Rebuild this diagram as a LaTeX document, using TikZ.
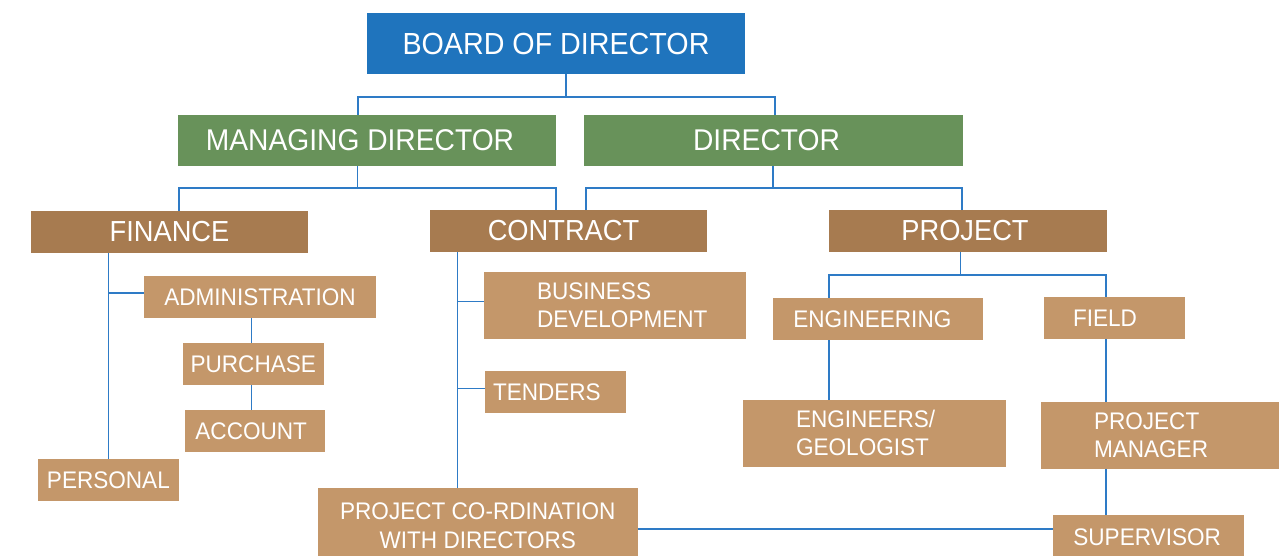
\documentclass[tikz,border=0pt]{standalone}
\usepackage{fontspec}
\setmainfont[FakeStretch=0.94]{Liberation Sans}
\definecolor{cBlue}{HTML}{1F74BD}
\definecolor{cGreen}{HTML}{68925A}
\definecolor{cDark}{HTML}{A77B50}
\definecolor{cTan}{HTML}{C4976A}
\definecolor{cLine}{HTML}{2E7BC6}
\tikzset{
  box/.style n args={2}{rectangle, inner sep=0pt, minimum width=#1pt, minimum height=#2pt, text=white, align=center},
  bigbox/.style n args={2}{box={#1}{#2}, font=\fontsize{30.5}{34}\selectfont},
  midbox/.style n args={2}{box={#1}{#2}, fill=cDark, font=\fontsize{29}{33}\selectfont},
  subbox/.style n args={2}{box={#1}{#2}, fill=cTan, font=\fontsize{24}{28}\selectfont},
  leftbox/.style n args={4}{subbox={#1}{#2}, align=left, inner xsep=#3pt, text width=#4pt},
  conn/.style={draw=cLine, line width=1.3pt}
}
\begin{document}
\begin{tikzpicture}[x=1pt,y=-1pt]
\useasboundingbox (0,0) rectangle (1288,555);
% top levels
\node[bigbox={378}{61}, fill=cBlue] (bd) at (556,43.5) {BOARD OF DIRECTOR};
\node[bigbox={378}{51}, fill=cGreen, font=\fontsize{30}{34}\selectfont] (md) at (367,140.5) {MANAGING DIRECTOR\hspace*{14pt}};
\node[bigbox={379}{51}, fill=cGreen, font=\fontsize{30}{34}\selectfont] (dr) at (773.5,140.5) {DIRECTOR\hspace*{14pt}};
\node[midbox={277}{42}] (fin) at (169.5,232) {FINANCE};
\node[midbox={277}{42}] (con) at (568.5,231) {CONTRACT\hspace*{10pt}};
\node[midbox={278}{42}] (prj) at (967.5,231) {PROJECT\hspace*{5pt}};
% finance subtree
\node[subbox={232.5}{41.7}] (adm) at (260,297) {ADMINISTRATION};
\node[subbox={141}{41.7}] (pur) at (253.3,364) {PURCHASE};
\node[subbox={140.5}{41.7}] (acc) at (255.2,431) {ACCOUNT\hspace*{8pt}};
\node[subbox={140.7}{41.7}] (per) at (108.4,480) {PERSONAL};
% contract subtree
\node[leftbox={262}{66.7}{53}{156}] (bus) at (615,305.4) {BUSINESS\\DEVELOPMENT};
\node[leftbox={140.6}{41.7}{8}{124.6}] (ten) at (555.3,392) {TENDERS};
\node[subbox={319.6}{75.7}, font=\fontsize{24}{29}\selectfont] (pcd) at (477.8,526.2) {PROJECT CO-RDINATION\\WITH DIRECTORS};
% project subtree
\node[leftbox={210}{41.7}{20}{170}] (eng) at (878.4,319) {ENGINEERING};
\node[leftbox={141}{41.7}{29}{83}] (fld) at (1114.5,318) {FIELD};
\node[leftbox={262.7}{66.7}{53}{156.7}] (egl) at (874.4,433.3) {ENGINEERS/\\GEOLOGIST};
\node[leftbox={238}{66.7}{53}{132}] (pm) at (1160,435.3) {PROJECT\\MANAGER};
\node[leftbox={190.2}{45}{20}{150.2}] (sup) at (1148.5,537.5) {SUPERVISOR};
% connectors: board level
\coordinate (j0) at (566,97);
\coordinate (j0l) at (358,97);
\coordinate (j0r) at (775,97);
\draw[conn] (bd.south -| j0) -- (j0);
\draw[conn] (md.north -| j0l) -- (j0l) -- (j0r) -- (dr.north -| j0r);
% managing director
\coordinate (j1) at (357.4,188);
\coordinate (j1l) at (179,188);
\coordinate (j1r) at (556,188);
\draw[conn] (md.south -| j1) -- (j1);
\draw[conn] (fin.north -| j1l) -- (j1l) -- (j1r) -- (con.north -| j1r);
% director
\coordinate (j2) at (773,188);
\coordinate (j2l) at (586,188);
\coordinate (j2r) at (962,188);
\draw[conn] (dr.south -| j2) -- (j2);
\draw[conn] (con.north -| j2l) -- (j2l) -- (j2r) -- (prj.north -| j2r);
% finance
\coordinate (xf) at (108.6,293);
\draw[conn] (fin.south -| xf) -- (per.north -| xf);
\draw[conn] (xf) -- (adm.west |- xf);
\coordinate (xa) at (251.7,0);
\draw[conn] (adm.south -| xa) -- (pur.north -| xa);
\draw[conn] (pur.south -| xa) -- (acc.north -| xa);
% contract
\coordinate (xc) at (457.7,301.7);
\coordinate (xt) at (457.7,388.7);
\draw[conn] (con.south -| xc) -- (pcd.north -| xc);
\draw[conn] (xc) -- (bus.west |- xc);
\draw[conn] (xt) -- (ten.west |- xt);
\coordinate (xs) at (0,529);
\draw[conn] (pcd.east |- xs) -- (sup.west |- xs);
% project
\coordinate (j3) at (960.5,275);
\coordinate (j3l) at (829,275);
\coordinate (j3r) at (1106,275);
\draw[conn] (prj.south -| j3) -- (j3);
\draw[conn] (eng.north -| j3l) -- (j3l) -- (j3r) -- (fld.north -| j3r);
\draw[conn] (eng.south -| j3l) -- (egl.north -| j3l);
\draw[conn] (fld.south -| j3r) -- (pm.north -| j3r);
\draw[conn] (pm.south -| j3r) -- (sup.north -| j3r);
\end{tikzpicture}
\end{document}
